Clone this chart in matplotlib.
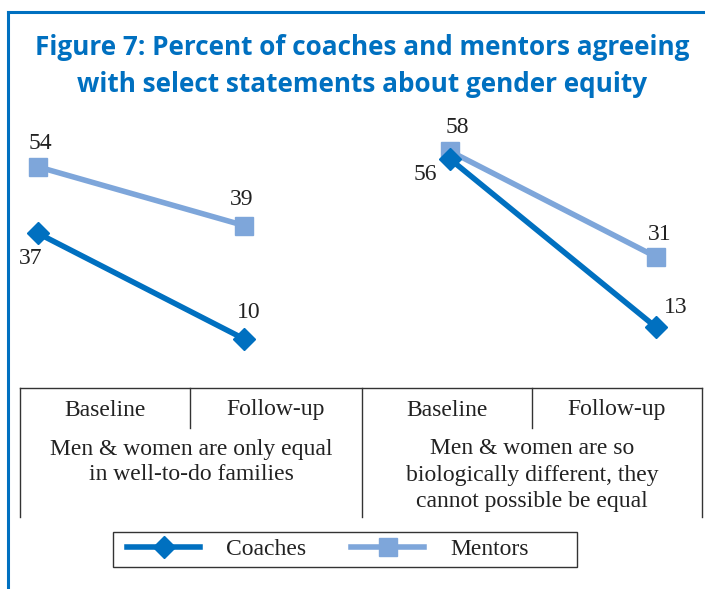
import matplotlib
matplotlib.use("Agg")
import matplotlib.pyplot as plt
from matplotlib.lines import Line2D
from matplotlib.patches import Rectangle

# ---- data ----
categories = ["Baseline", "Follow-up", "Baseline", "Follow-up"]
groups = [["Men & women are only equal", "in well-to-do families"],
          ["Men & women are so", "biologically different, they", "cannot possible be equal"]]
coaches = [[37, 10], [56, 13]]
mentors = [[54, 39], [58, 31]]
series_names = ["Coaches", "Mentors"]
title = "Figure 7: Percent of coaches and mentors agreeing\nwith select statements about gender equity"

W, H = 705, 589
C_DARK = "#0070C0"
C_LIGHT = "#7EA6DA"
TXT = "#222222"
SERIF = ["Liberation Serif", "DejaVu Serif"]
FS = 17

fig = plt.figure(figsize=(W / 100, H / 100), dpi=100)

def fx(px):
    return px / W

def fy(py):
    return 1 - py / H

# border (top and left, blue)
fig.add_artist(Line2D([fx(8), fx(8)], [fy(12), fy(589)], color=C_DARK, lw=2.2))
fig.add_artist(Line2D([fx(8), fx(705)], [fy(12), fy(12)], color=C_DARK, lw=2.2))

# title
fig.text(fx(362), fy(66), title, ha="center", va="center", color=C_DARK,
         fontsize=18.8, fontweight="bold", family=["Open Sans", "DejaVu Sans"],
         linespacing=1.5)

# main axes for the lines
ax_l, ax_r = 20, 702
ax_t, ax_b = 110, 378
ax = fig.add_axes([fx(ax_l), fy(ax_b), fx(ax_r - ax_l), (ax_b - ax_t) / H])
ppu = 3.91  # pixels per unit
ax.set_ylim(0, (ax_b - ax_t) / ppu)
step = 206
x0 = 38
ax.set_xlim((ax_l - x0) / step, (ax_r - x0) / step)
ax.axis("off")

for g in range(2):
    xs = [2 * g, 2 * g + 1]
    ax.plot(xs, mentors[g], color=C_LIGHT, lw=4, marker="s", ms=13,
            solid_capstyle="butt", zorder=2)
    ax.plot(xs, coaches[g], color=C_DARK, lw=4, marker="D", ms=11,
            solid_capstyle="butt", zorder=3)

# data labels (offsets in points)
lab_kw = dict(fontsize=FS, family=SERIF, color=TXT, textcoords="offset points")
offsets_m = [[(1.5, 17), (-1.5, 19)], [(5, 17), (3, 16)]]
offsets_c = [[(-5, -18), (3.5, 19)], [(-18, -11), (14, 14)]]
for g in range(2):
    for i in range(2):
        x = 2 * g + i
        ax.annotate(str(mentors[g][i]), (x, mentors[g][i]), xytext=offsets_m[g][i],
                    ha="center", va="center", **lab_kw)
        ax.annotate(str(coaches[g][i]), (x, coaches[g][i]), xytext=offsets_c[g][i],
                    ha="center", va="center", **lab_kw)

# category table
line_kw = dict(color="#333333", lw=1.0)
tbl_top, tbl_bot, tbl_mid = 388, 517, 428
fig.add_artist(Line2D([fx(20), fx(702)], [fy(tbl_top), fy(tbl_top)], **line_kw))
for xp, bot in [(20, tbl_bot), (190, tbl_mid), (362, tbl_bot), (532, tbl_mid), (702, tbl_bot)]:
    fig.add_artist(Line2D([fx(xp), fx(xp)], [fy(tbl_top), fy(bot)], **line_kw))

cat_centers = [105, 276, 447, 617]
for c, name in zip(cat_centers, categories):
    fig.text(fx(c), fy(410), name, ha="center", va="center", fontsize=FS,
             family=SERIF, color=TXT)
grp_centers = [191, 532]
for c, lines in zip(grp_centers, groups):
    for i, ln in enumerate(lines):
        fig.text(fx(c), fy(449 + 26 * i), ln, ha="center", va="center", fontsize=FS,
                 family=SERIF, color=TXT)

# legend (frame drawn separately)
fig.add_artist(Rectangle((fx(113), fy(567)), fx(577 - 113), (567 - 532) / H,
                         transform=fig.transFigure, fill=False,
                         edgecolor="#333333", lw=1.0))
handles = [Line2D([], [], color=C_DARK, lw=4, marker="D", ms=11),
           Line2D([], [], color=C_LIGHT, lw=4, marker="s", ms=13)]
leg = fig.legend(handles, series_names, loc="center left",
                 bbox_to_anchor=(fx(127), fy(549.5)), ncol=2, frameon=False,
                 prop={"family": SERIF, "size": FS}, handlelength=3.1,
                 handletextpad=1.1, columnspacing=1.9, borderpad=0,
                 borderaxespad=0)
for t in leg.get_texts():
    t.set_color(TXT)

fig.savefig("out.png", dpi=100)
